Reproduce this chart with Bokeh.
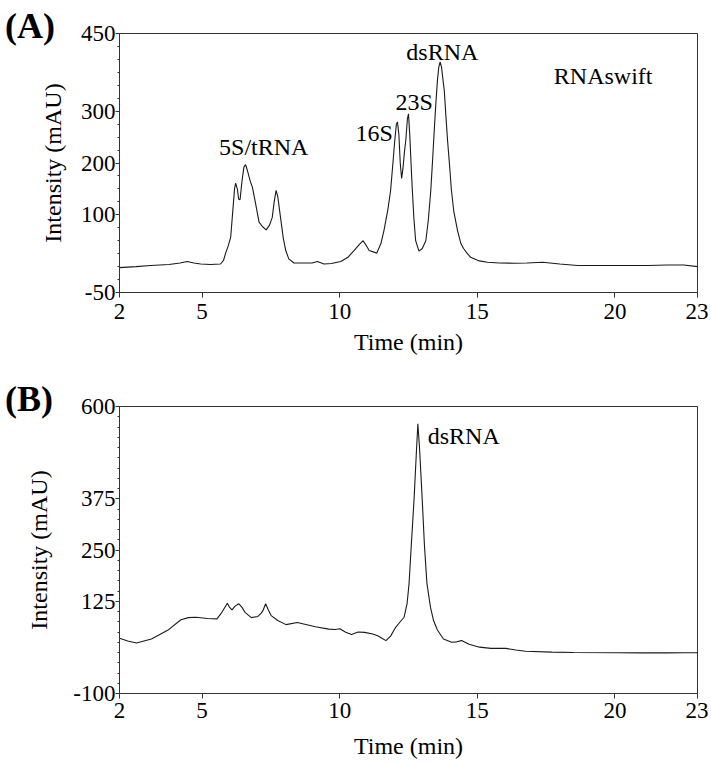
from bokeh.plotting import figure
from bokeh.models import Range1d, FixedTicker, Div, GridBox
from bokeh.embed import file_html
from bokeh.resources import INLINE
from bokeh.core.properties import value

FONT = "Liberation Serif"

# ---------------- Panel A data (RNAswift) ----------------
time_a = [2.0, 2.6, 3.13, 3.8, 4.2, 4.46, 4.7, 4.95, 5.3, 5.67, 5.78, 5.85, 5.95, 6.04,
          6.12, 6.18, 6.22, 6.28, 6.33, 6.38, 6.45, 6.52, 6.58, 6.65, 6.75, 6.83, 6.95,
          7.07, 7.2, 7.33, 7.45, 7.55, 7.62, 7.69, 7.75, 7.85, 7.95, 8.04, 8.15, 8.34,
          8.7, 9.0, 9.19, 9.43, 9.7, 10.04, 10.3, 10.52, 10.7, 10.85, 10.95, 11.07,
          11.35, 11.5, 11.61, 11.75, 11.85, 11.95, 12.0, 12.06, 12.1, 12.15, 12.2, 12.25,
          12.3, 12.35, 12.4, 12.46, 12.5, 12.55, 12.6, 12.64, 12.7, 12.76, 12.88, 13.0,
          13.13, 13.22, 13.31, 13.38, 13.45, 13.5, 13.55, 13.6, 13.65, 13.7, 13.75, 13.8,
          13.86, 13.92, 14.0, 14.06, 14.15, 14.28, 14.4, 14.5, 14.64, 14.76, 15.07, 15.37,
          15.8, 16.34, 16.8, 17.37, 18.0, 18.64, 19.5, 20.46, 21.2, 21.9, 22.5, 23.0]
intensity_a = [-2, 0, 2, 4, 7, 10, 7, 5, 4, 5, 12, 25, 40, 57,
               110, 150, 161, 150, 130, 129, 165, 192, 197, 185, 165, 153, 120,
               86, 77, 71, 80, 95, 125, 147, 135, 95, 55, 31, 15, 7,
               7, 7, 10, 5, 6, 10, 18, 31, 42, 50, 42, 31,
               26, 45, 70, 110, 147, 210, 243, 275, 279, 255, 200, 170,
               190, 220, 243, 285, 295, 250, 190, 147, 90, 50, 30, 35,
               50, 90, 147, 210, 276, 320, 359, 385, 395, 385, 362, 340,
               290, 243, 190, 147, 105, 70, 45, 35, 25, 18, 11, 8.5,
               7, 6.6, 7, 8.5, 5, 2, 2, 2, 2, 3, 3, 0]

# ---------------- Panel B data ----------------
time_b = [2.0, 2.3, 2.62, 3.16, 3.75, 4.23, 4.5, 4.77, 5.2, 5.54, 5.72, 5.92, 6.0, 6.09,
          6.2, 6.33, 6.45, 6.56, 6.79, 7.03, 7.15, 7.21, 7.31, 7.4, 7.51, 7.75, 8.05,
          8.46, 9.12, 9.6, 9.84, 10.01, 10.2, 10.43, 10.67, 10.9, 11.2, 11.38, 11.55,
          11.68, 11.85, 12.04, 12.2, 12.34, 12.45, 12.52, 12.6, 12.7, 12.78, 12.84, 12.9,
          13.0, 13.08, 13.17, 13.3, 13.41, 13.55, 13.77, 14.07, 14.25, 14.43, 14.7, 15.08,
          15.5, 16.04, 16.4, 16.75, 17.71, 18.5, 20.1, 21.0, 21.88, 22.5, 22.95, 23.0]
intensity_b = [35, 28, 23, 33, 54, 80, 85, 86, 83, 82, 98, 120, 110, 104,
               113, 119, 110, 98, 85, 88, 96, 102, 119, 105, 90, 78, 68,
               73, 63, 57, 56, 58, 50, 44, 50, 49, 45, 41, 34,
               29, 40, 62, 75, 86, 120, 168, 260, 371, 480, 558, 500,
               371, 260, 168, 110, 78, 55, 33, 25, 26, 29, 20, 13,
               10, 10, 6, 3, 1, 0, -0.5, -1, -1, -0.5, -0.5, -1]

# ---------------- Axes / ticks ----------------
x_ticks = [2, 5, 10, 15, 20, 23]
y_ticks_a = [-50, 100, 200, 300, 450]
y_minor_a = list(range(-50, 451, 25))
y_ticks_b = [-100, 125, 250, 375, 600]
y_minor_b = list(range(-100, 601, 25))

# ---------------- Annotations ----------------
ann_a_text = ["5S/tRNA", "16S", "23S", "dsRNA"]
ann_a_x = [7.24, 11.93, 12.71, 13.73]
ann_a_y = [231, 257, 318, 415]
ann_a_align = ["center", "right", "center", "center"]
sample_a = ("RNAswift", 17.78, 367)
ann_b = ("dsRNA", 13.2, 527)
panel_tags = ["(A)", "(B)"]


def style(p, y_ticks, y_minor, tick_standoff_x, label_standoff_x, label_standoff_y):
    p.xaxis.ticker = FixedTicker(ticks=x_ticks)
    p.yaxis.ticker = FixedTicker(ticks=y_ticks, minor_ticks=y_minor)
    p.yaxis.major_label_overrides = {t: str(t) for t in y_ticks if t < 0}
    for ax in (p.xaxis[0], p.yaxis[0]):
        ax.major_label_text_font = FONT
        ax.major_label_text_font_size = "23px"
        ax.major_label_text_color = "black"
        ax.axis_label_text_font = FONT
        ax.axis_label_text_font_size = "24px"
        ax.axis_label_text_font_style = "normal"
        ax.axis_label_text_color = "black"
        ax.axis_line_color = "#333333"
        ax.major_tick_line_color = "#333333"
        ax.minor_tick_line_color = "#333333"
        ax.major_tick_in = 0
        ax.minor_tick_in = 0
    p.xaxis.axis_label = "Time (min)"
    p.yaxis.axis_label = "Intensity (mAU)"
    p.xaxis.major_tick_out = 5
    p.xaxis.minor_tick_out = 0
    p.xaxis.major_label_standoff = tick_standoff_x
    p.xaxis.axis_label_standoff = label_standoff_x
    p.yaxis.major_tick_out = 4
    p.yaxis.minor_tick_out = 2
    p.yaxis.major_label_standoff = 0
    p.yaxis.axis_label_standoff = label_standoff_y
    p.xgrid.visible = False
    p.ygrid.visible = False
    p.outline_line_color = "#333333"
    p.outline_line_alpha = 1.0
    p.outline_line_width = 1
    p.background_fill_color = "white"
    p.border_fill_color = "white"


def tag(text, pad_top, pad_left):
    return Div(text=text, width=70, height=50,
               styles={"position": "relative", "z-index": "10",
                       "font-family": FONT, "font-size": "36px", "font-weight": "bold",
                       "line-height": "1", "color": "black",
                       "padding-top": f"{pad_top}px", "padding-left": f"{pad_left}px"})


# ---------------- Figure A ----------------
pa = figure(width=708, height=370, output_backend="svg", toolbar_location=None,
            x_range=Range1d(2, 23), y_range=Range1d(-50, 450),
            min_border_left=119, min_border_right=11, min_border_top=33, min_border_bottom=78)
style(pa, y_ticks_a, y_minor_a, 6, 7, 12)
pa.line(time_a, intensity_a, line_color="#1a1a1a", line_width=1.1)
for t, x, y, al in zip(ann_a_text, ann_a_x, ann_a_y, ann_a_align):
    pa.text(x=[x], y=[y], text=[t], text_font=value(FONT), text_font_size="24px",
            text_align=al, text_baseline="alphabetic", text_color="black")
pa.text(x=[sample_a[1]], y=[sample_a[2]], text=[sample_a[0]], text_font=value(FONT),
        text_font_size="24px", text_align="left", text_baseline="alphabetic", text_color="black")

# ---------------- Figure B ----------------
pb = figure(width=708, height=396, output_backend="svg", toolbar_location=None,
            x_range=Range1d(2, 23), y_range=Range1d(-100, 600),
            min_border_left=111, min_border_right=10, min_border_top=36, min_border_bottom=73)
style(pb, y_ticks_b, y_minor_b, 4, 12, 18)
pb.line(time_b, intensity_b, line_color="#1a1a1a", line_width=1.1)
pb.text(x=[ann_b[1]], y=[ann_b[2]], text=[ann_b[0]], text_font=value(FONT),
        text_font_size="24px", text_align="left", text_baseline="alphabetic", text_color="black")

layout = GridBox(children=[(pa, 0, 0), (tag(panel_tags[0], 3, 0), 0, 0),
                           (pb, 1, 0), (tag(panel_tags[1], 6, 0), 1, 0)])
open("out.html", "w").write(file_html(layout, INLINE))
